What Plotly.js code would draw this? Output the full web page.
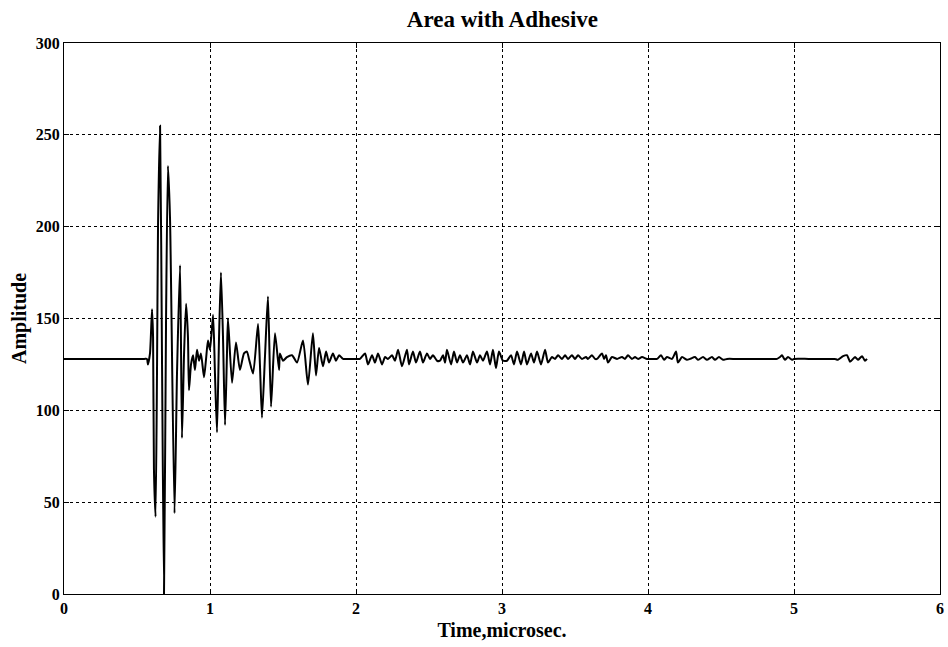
<!DOCTYPE html>
<html>
<head>
<meta charset="utf-8">
<script src="https://cdn.plot.ly/plotly-3.0.1.min.js"></script>
<style>html,body{margin:0;padding:0;background:#fff;}#chart{width:948px;height:647px;}</style>
</head>
<body>
<div id="chart"></div>
<script>
// Time in microseconds
const timeUs = [0, 0.3, 0.55, 0.568, 0.575, 0.589, 0.603, 0.610, 0.616, 0.627, 0.637, 0.644, 0.658, 0.671, 0.685, 0.699, 0.712, 0.726, 0.757, 0.774, 0.795, 0.808, 0.822, 0.836, 0.849, 0.856, 0.870, 0.884, 0.897, 0.911, 0.925, 0.938, 0.959, 0.973, 0.986, 1.000, 1.021, 1.034, 1.048, 1.062, 1.075, 1.089, 1.103, 1.116, 1.123, 1.151, 1.178, 1.205, 1.233, 1.253, 1.267, 1.295, 1.329, 1.342, 1.356, 1.377, 1.397, 1.418, 1.445, 1.473, 1.479, 1.500, 1.527, 1.562, 1.596, 1.637, 1.671, 1.705, 1.726, 1.747, 1.774, 1.795, 1.815, 1.842, 1.863, 1.884, 1.911, 1.938, 1.97, 2.000, 2.027, 2.062, 2.082, 2.110, 2.130, 2.151, 2.178, 2.199, 2.219, 2.247, 2.267, 2.288, 2.315, 2.349, 2.363, 2.390, 2.411, 2.438, 2.459, 2.486, 2.507, 2.527, 2.555, 2.575, 2.596, 2.610, 2.623, 2.651, 2.671, 2.692, 2.712, 2.733, 2.760, 2.781, 2.801, 2.829, 2.849, 2.870, 2.897, 2.918, 2.938, 2.959, 2.979, 3.007, 3.034, 3.062, 3.082, 3.103, 3.130, 3.151, 3.171, 3.199, 3.219, 3.240, 3.267, 3.295, 3.315, 3.342, 3.363, 3.384, 3.411, 3.432, 3.452, 3.479, 3.500, 3.521, 3.548, 3.575, 3.589, 3.616, 3.637, 3.651, 3.685, 3.699, 3.712, 3.726, 3.753, 3.788, 3.822, 3.842, 3.863, 3.890, 3.911, 3.932, 3.959, 3.993, 4.03, 4.062, 4.089, 4.110, 4.130, 4.164, 4.192, 4.205, 4.233, 4.267, 4.288, 4.322, 4.342, 4.377, 4.404, 4.438, 4.459, 4.486, 4.514, 4.541, 4.6, 4.75, 4.87, 4.884, 4.904, 4.918, 4.938, 4.959, 4.986, 5.000, 5.1, 5.2, 5.27, 5.281, 5.301, 5.336, 5.363, 5.384, 5.418, 5.438, 5.466, 5.486, 5.500];
// Amplitude
const amplitude = [128, 128, 128, 128, 125, 131, 155, 140, 68, 42, 120, 200, 255, 130, 0, 150, 233, 205, 44, 120, 179, 85, 130, 158, 140, 111, 125, 130, 122, 133, 127, 131, 118, 128, 138, 133, 152, 120, 88, 140, 175, 140, 92, 130, 150, 115, 137, 122, 131, 132, 128, 120, 147, 125, 96, 130, 162, 102, 142, 122, 131, 127, 129, 130, 126, 138, 114, 142, 119, 134, 124, 132, 126, 131, 127, 130, 128, 128, 128, 128, 128, 131, 125, 130, 126, 131, 125, 129, 128, 130, 127, 133, 124, 133, 125, 132, 126, 132, 126, 131, 128, 130, 127, 127, 130, 126, 133, 125, 132, 126, 130, 126, 130, 125, 132, 126, 130, 127, 132, 125, 133, 123, 132, 127, 127, 130, 125, 132, 125, 132, 125, 131, 126, 132, 125, 133, 126, 129, 128, 130, 128, 130, 128, 130, 128, 130, 128, 129, 128, 130, 128, 128, 131, 128, 130, 126, 129, 128, 129, 128, 130, 128, 129, 128, 129, 128, 128, 128, 130, 127.5, 129, 128, 132, 126, 129, 127.5, 128, 129, 127.5, 129, 127.5, 129, 127.5, 129, 127.5, 128, 128, 128, 128, 128, 129, 130, 127.5, 129, 127.5, 128, 128, 128, 128, 128, 127.5, 129.5, 130, 126.5, 129, 127.5, 129.5, 127, 128];

const chartTitle = 'Area with Adhesive';
const xTitle = 'Time,microsec.';
const yTitle = 'Amplitude';
const xTicks = [0, 1, 2, 3, 4, 5, 6];
const yTicks = [0, 50, 100, 150, 200, 250, 300];

const serif = 'Liberation Serif, Times New Roman, serif';

const trace = {
  x: timeUs,
  y: amplitude,
  type: 'scatter',
  mode: 'lines',
  line: {color: '#000000', width: 2, shape: 'spline', smoothing: 0.6},
  hoverinfo: 'skip'
};

const axisCommon = {
  showline: true,
  linecolor: '#000',
  linewidth: 1,
  mirror: 'ticks',
  ticks: 'inside',
  ticklen: 5,
  tickcolor: '#000',
  showgrid: true,
  gridcolor: '#000',
  griddash: 'dot',
  gridwidth: 1,
  zeroline: false,
  tickfont: {family: serif, size: 16, color: '#000', weight: 'bold'}
};

const layout = {
  width: 948,
  height: 647,
  paper_bgcolor: '#ffffff',
  plot_bgcolor: '#ffffff',
  margin: {l: 64, r: 8, t: 43, b: 53},
  showlegend: false,
  title: {
    text: '<b>' + chartTitle + '</b>',
    font: {family: serif, size: 23, color: '#000'},
    x: 0.53, xanchor: 'center', y: 0.97, yanchor: 'middle'
  },
  xaxis: Object.assign({}, axisCommon, {
    range: [0, 6],
    tickvals: xTicks,
    ticktext: xTicks.map(String),
    title: {text: '<b>' + xTitle + '</b>', font: {family: serif, size: 20, color: '#000'}, standoff: 6}
  }),
  yaxis: Object.assign({}, axisCommon, {
    range: [0, 300],
    tickvals: yTicks,
    ticktext: yTicks.map(String),
    title: {text: '<b>' + yTitle + '</b>', font: {family: serif, size: 20, color: '#000'}, standoff: 3}
  })
};

Plotly.newPlot('chart', [trace], layout, {displayModeBar: false, staticPlot: true});
</script>
</body>
</html>
